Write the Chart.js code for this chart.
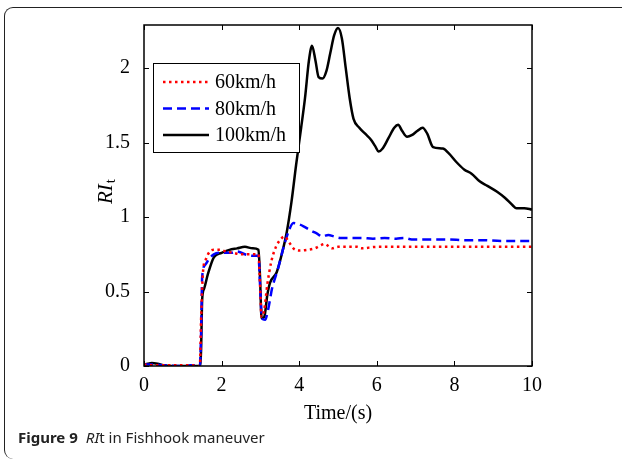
<!DOCTYPE html>
<html>
<head>
<meta charset="utf-8">
<script src="https://cdn.jsdelivr.net/npm/chart.js@4.4.1/dist/chart.umd.min.js"></script>
<style>
  html, body { margin: 0; padding: 0; background: #fff; }
  #page { position: relative; width: 622px; height: 461px; overflow: hidden; }
  #frame {
    position: absolute; left: 4px; top: 7px; width: 620px; height: 452px;
    border-top: 1.5px solid #222; border-left: 1.5px solid #222;
    border-radius: 9px 0 0 9px; box-sizing: border-box;
  }
  #chart-wrap { position: absolute; left: 0; top: 0; width: 622px; height: 430px; }
  #caption {
    position: absolute; left: 18px; top: 427px;
    font-family: "Noto Sans", sans-serif; font-size: 15px; color: #222; white-space: nowrap;
  }
  #caption b { font-weight: 700; margin-right: 8px; }
</style>
</head>
<body>
<div id="page">
  <div id="frame"></div>
  <div id="chart-wrap"><canvas id="ri-chart" width="622" height="430"></canvas></div>
  <div id="caption"><b>Figure 9</b><i>RI</i>t in Fishhook maneuver</div>
</div>
<script>
// Load transfer ratio over time, fishhook maneuver, three speeds
const seriesLabels = ['60km/h', '80km/h', '100km/h'];

const time60 = [0, 0.3, 0.8, 1.2, 1.44, 1.47, 1.52, 1.6, 1.7, 1.8, 1.95, 2.1, 2.3, 2.5, 2.7, 2.95, 2.99, 3.03, 3.1, 3.18, 3.28, 3.4, 3.52, 3.62, 3.72, 3.85, 4.0, 4.2, 4.4, 4.55, 4.65, 4.85, 5.0, 5.5, 5.6, 6.0, 7.0, 8.0, 9.0, 10];
const ri60 = [0.01, 0.005, 0.005, 0.005, 0, 0.3, 0.63, 0.72, 0.77, 0.78, 0.78, 0.77, 0.76, 0.75, 0.75, 0.75, 0.55, 0.33, 0.38, 0.55, 0.7, 0.8, 0.85, 0.87, 0.84, 0.79, 0.775, 0.78, 0.79, 0.81, 0.82, 0.79, 0.8, 0.8, 0.79, 0.8, 0.8, 0.8, 0.8, 0.8];

const time80 = [0, 0.2, 0.5, 1.0, 1.2, 1.44, 1.47, 1.5, 1.58, 1.68, 1.8, 1.95, 2.1, 2.25, 2.4, 2.6, 2.8, 2.95, 2.99, 3.04, 3.12, 3.2, 3.3, 3.45, 3.6, 3.75, 3.85, 3.95, 4.1, 4.3, 4.45, 4.6, 4.75, 4.9, 5.05, 5.3, 5.6, 5.9, 6.2, 6.5, 6.7, 6.9, 7.3, 7.8, 8.3, 8.7, 9.2, 9.6, 10];
const ri80 = [0.01, 0.01, 0.005, 0, 0.005, 0, 0.2, 0.6, 0.68, 0.72, 0.75, 0.76, 0.76, 0.76, 0.77, 0.75, 0.74, 0.74, 0.55, 0.32, 0.31, 0.38, 0.52, 0.65, 0.8, 0.92, 0.96, 0.955, 0.94, 0.91, 0.89, 0.87, 0.88, 0.87, 0.86, 0.86, 0.86, 0.855, 0.86, 0.855, 0.86, 0.85, 0.85, 0.85, 0.845, 0.845, 0.84, 0.84, 0.84];

const time100 = [0, 0.1, 0.2, 0.35, 0.5, 0.7, 1.0, 1.3, 1.44, 1.47, 1.5, 1.55, 1.65, 1.8, 2.0, 2.2, 2.4, 2.6, 2.8, 2.95, 2.99, 3.03, 3.1, 3.18, 3.25, 3.42, 3.55, 3.68, 3.8, 3.92, 4.05, 4.15, 4.25, 4.33, 4.42, 4.5, 4.6, 4.7, 4.8, 4.9, 5.0, 5.1, 5.2, 5.3, 5.4, 5.55, 5.7, 5.85, 5.95, 6.05, 6.15, 6.3, 6.45, 6.55, 6.65, 6.78, 6.9, 7.05, 7.18, 7.3, 7.45, 7.7, 7.85, 8.05, 8.25, 8.45, 8.65, 8.85, 9.1, 9.3, 9.5, 9.6, 9.8, 10];
const ri100 = [0.01, 0.015, 0.02, 0.015, 0.005, 0, 0, 0, 0, 0.1, 0.45, 0.52, 0.62, 0.73, 0.76, 0.78, 0.79, 0.8, 0.79, 0.78, 0.6, 0.32, 0.33, 0.48, 0.56, 0.63, 0.75, 0.9, 1.1, 1.35, 1.6, 1.8, 2.05, 2.15, 2.05, 1.94, 1.93, 1.98, 2.1, 2.22, 2.27, 2.2, 2.0, 1.8, 1.66, 1.6, 1.56, 1.52, 1.48, 1.44, 1.46, 1.53, 1.6, 1.62, 1.58, 1.54, 1.55, 1.58, 1.6, 1.56, 1.47, 1.46, 1.43, 1.37, 1.32, 1.29, 1.24, 1.21, 1.17, 1.13, 1.08, 1.06, 1.06, 1.05];

const xTicks = [0, 2, 4, 6, 8, 10];
const yTicks = [0, 0.5, 1, 1.5, 2];

const serif = '"Liberation Serif", "Times New Roman", serif';

function toPoints(ts, vs) {
  return ts.map((t, i) => ({ x: t, y: vs[i] }));
}

// Box around the plot, inward ticks on all four sides, inset legend, y title
const matlabAxes = {
  id: 'matlabAxes',
  afterDatasetsDraw(chart) {
    const { ctx, chartArea: a, scales } = chart;
    ctx.save();
    ctx.strokeStyle = '#000';
    ctx.lineWidth = 1.5;
    ctx.strokeRect(a.left, a.top, a.right - a.left, a.bottom - a.top);

    ctx.lineWidth = 1;
    ctx.beginPath();
    xTicks.forEach(v => {
      const px = Math.round(scales.x.getPixelForValue(v)) + 0.5;
      ctx.moveTo(px, a.bottom); ctx.lineTo(px, a.bottom - 5);
      ctx.moveTo(px, a.top); ctx.lineTo(px, a.top + 5);
    });
    yTicks.forEach(v => {
      const py = Math.round(scales.y.getPixelForValue(v)) + 0.5;
      ctx.moveTo(a.left, py); ctx.lineTo(a.left + 5, py);
      ctx.moveTo(a.right, py); ctx.lineTo(a.right - 5, py);
    });
    ctx.stroke();

    // legend
    const lx = 153, ly = 63, lw = 146, lh = 89;
    ctx.fillStyle = '#fff';
    ctx.fillRect(lx, ly, lw, lh);
    ctx.strokeStyle = '#000';
    ctx.lineWidth = 1;
    ctx.strokeRect(lx + 0.5, ly + 0.5, lw, lh);
    ctx.font = '20px ' + serif;
    ctx.textBaseline = 'middle';
    ctx.textAlign = 'left';
    chart.data.datasets.forEach((ds, i) => {
      const y = ly + 19 + i * 26.5;
      ctx.strokeStyle = ds.borderColor;
      ctx.lineWidth = ds.borderWidth;
      ctx.setLineDash(ds.borderDash || []);
      ctx.beginPath();
      ctx.moveTo(lx + 10, y); ctx.lineTo(lx + 56, y);
      ctx.stroke();
      ctx.setLineDash([]);
      ctx.fillStyle = '#000';
      ctx.fillText(ds.label, lx + 62, y + 1);
    });

    // y axis title: italic RI with subscript t
    ctx.save();
    ctx.translate(112, 192);
    ctx.rotate(-Math.PI / 2);
    ctx.fillStyle = '#000';
    ctx.textBaseline = 'alphabetic';
    ctx.font = 'italic 21px ' + serif;
    const wRI = ctx.measureText('RI').width;
    ctx.font = '15px ' + serif;
    const wt = ctx.measureText('t').width;
    const start = -(wRI + wt) / 2;
    ctx.font = 'italic 21px ' + serif;
    ctx.fillText('RI', start, 0);
    ctx.font = '15px ' + serif;
    ctx.fillText('t', start + wRI + 1, 3);
    ctx.restore();

    ctx.restore();
  }
};

new Chart(document.getElementById('ri-chart'), {
  type: 'line',
  data: {
    datasets: [
      {
        label: seriesLabels[0],
        data: toPoints(time60, ri60),
        borderColor: '#ff0000',
        borderWidth: 2.5,
        borderDash: [2.5, 3.5]
      },
      {
        label: seriesLabels[1],
        data: toPoints(time80, ri80),
        borderColor: '#0000ff',
        borderWidth: 2.5,
        borderDash: [9, 5]
      },
      {
        label: seriesLabels[2],
        data: toPoints(time100, ri100),
        borderColor: '#000000',
        borderWidth: 2.5
      }
    ]
  },
  options: {
    responsive: false,
    animation: false,
    parsing: false,
    layout: { padding: { left: 0, top: 25, right: 90, bottom: 0 } },
    elements: {
      point: { radius: 0 },
      line: { cubicInterpolationMode: 'monotone', fill: false, borderCapStyle: 'butt', borderJoinStyle: 'round' }
    },
    plugins: {
      legend: { display: false },
      tooltip: { enabled: false }
    },
    scales: {
      x: {
        type: 'linear',
        min: 0,
        max: 10,
        afterBuildTicks: s => { s.ticks = xTicks.map(v => ({ value: v })); },
        afterFit: s => { s.height = 64; },
        grid: { display: false },
        border: { display: false },
        ticks: { color: '#000', padding: 0, font: { family: serif, size: 20 } },
        title: {
          display: true,
          text: 'Time/(s)',
          color: '#000',
          padding: { top: -7 },
          font: { family: serif, size: 20 }
        }
      },
      y: {
        type: 'linear',
        min: 0,
        max: 2.29,
        afterBuildTicks: s => { s.ticks = yTicks.map(v => ({ value: v })); },
        afterFit: s => { s.width = 144; },
        grid: { display: false },
        border: { display: false },
        ticks: {
          color: '#000',
          padding: 6,
          font: { family: serif, size: 20 },
          callback: v => String(v)
        }
      }
    }
  },
  plugins: [matlabAxes]
});
</script>
</body>
</html>
